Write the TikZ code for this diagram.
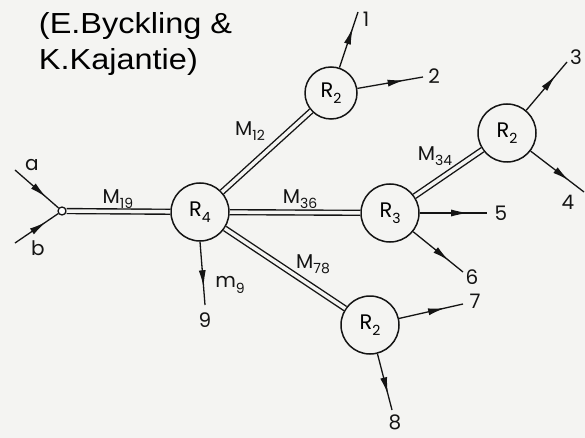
\documentclass[tikz,border=0pt]{standalone}
\usepackage{fontspec}
\newfontfamily\titlefont{Liberation Sans}
\newfontfamily\labelfont{Poppins}
\usetikzlibrary{arrows.meta,decorations.markings}
\definecolor{paper}{RGB}{244,244,242}
\definecolor{ink}{RGB}{20,20,20}
\newcommand{\lowidx}[2]{#1\raisebox{-0.5ex}{\fontsize{14}{14}\selectfont #2}}

\begin{document}
\begin{tikzpicture}[x=1pt, y=-1pt,
    vertex/.style={draw=ink, circle, line width=1.5pt, fill=paper, inner sep=0pt, minimum size=58pt, font=\labelfont\fontsize{21}{21}\selectfont},
    link/.style={draw=ink, double=paper, double distance=3.5pt, line width=1.4pt},
    outarrow/.style={draw=ink, line width=1.3pt, postaction={decorate},
        decoration={markings, mark=at position 0.72 with {\arrow{Latex[length=17pt,width=7pt]}}}},
    lbl/.style={font=\labelfont\fontsize{20}{20}\selectfont, text=ink, inner sep=1pt}]
        % Paper and frame
        \useasboundingbox[fill=paper] (0,0) rectangle (585,438);

        % Title
        \node[anchor=base west, xscale=1.12, font=\titlefont\fontsize{29}{36}\selectfont] (titleA) at (35,34) {(E.Byckling \&};
        \node[anchor=base west, xscale=1.12, font=\titlefont\fontsize{29}{36}\selectfont] (titleB) at (35,70) {K.Kajantie)};

        % Vertices
        \node[draw=ink, circle, line width=1.3pt, fill=white, inner sep=0pt, minimum size=8pt] (junc) at (62,211) {};
        \node[vertex] (rfour) at (200,212) {\lowidx{R}{4}};
        \node[vertex, minimum size=52pt] (rtwoA) at (331,93) {\lowidx{R}{2}};
        \node[vertex] (rtwoB) at (507,133) {\lowidx{R}{2}};
        \node[vertex] (rthree) at (390,213) {\lowidx{R}{3}};
        \node[vertex] (rtwoC) at (370,325) {\lowidx{R}{2}};

        % Free ends
        \coordinate (ina) at (15,170);
        \coordinate (inb) at (15,243);
        \coordinate (out1) at (358,12);
        \coordinate (out2) at (423,77);
        \coordinate (out3) at (567,62);
        \coordinate (out4) at (584,192);
        \coordinate (out5) at (487,213);
        \coordinate (out6) at (463,272);
        \coordinate (out7) at (463,304);
        \coordinate (out8) at (392,410);
        \coordinate (out9) at (205,305);

        % Double links
        \draw[link] (junc) -- (rfour);
        \draw[link] (rfour) -- (rtwoA);
        \draw[link] (rfour) -- (rthree);
        \draw[link] (rthree) -- (rtwoB);
        \draw[link] (rfour) -- (rtwoC);
        \node[lbl] (mA) at (118,199) {\lowidx{M}{19}};
        \node[lbl] (mB) at (250,131) {\lowidx{M}{12}};
        \node[lbl] (mC) at (300,199) {\lowidx{M}{36}};
        \node[lbl] (mD) at (435,156) {\lowidx{M}{34}};
        \node[lbl] (mE) at (313,264) {\lowidx{M}{78}};

        % Incoming and outgoing lines
        \draw[outarrow] (ina) -- (junc);
        \draw[outarrow] (inb) -- (junc);
        \draw[outarrow] (rtwoA) -- (out1);
        \draw[outarrow] (rtwoA) -- (out2);
        \draw[outarrow] (rtwoB) -- (out3);
        \draw[outarrow] (rtwoB) -- (out4);
        \draw[outarrow] (rthree) -- (out5);
        \draw[outarrow] (rthree) -- (out6);
        \draw[outarrow] (rtwoC) -- (out7);
        \draw[outarrow] (rtwoC) -- (out8);
        \draw[outarrow] (rfour.south) -- (out9);

        % End labels
        \node[lbl] (la) at (32,165) {a};
        \node[lbl] (lb) at (38,248) {b};
        \node[lbl] (l1) at (366,19) {1};
        \node[lbl] (l2) at (434,76) {2};
        \node[lbl] (l3) at (576,57) {3};
        \node[lbl] (l4) at (568,202) {4};
        \node[lbl] (l5) at (501,213) {5};
        \node[lbl] (l6) at (472,277) {6};
        \node[lbl] (l7) at (475,301) {7};
        \node[lbl] (l8) at (395,422) {8};
        \node[lbl] (l9) at (205,320) {9};
        \node[lbl] (lm) at (230,285) {\lowidx{m}{9}};
\end{tikzpicture}
\end{document}
